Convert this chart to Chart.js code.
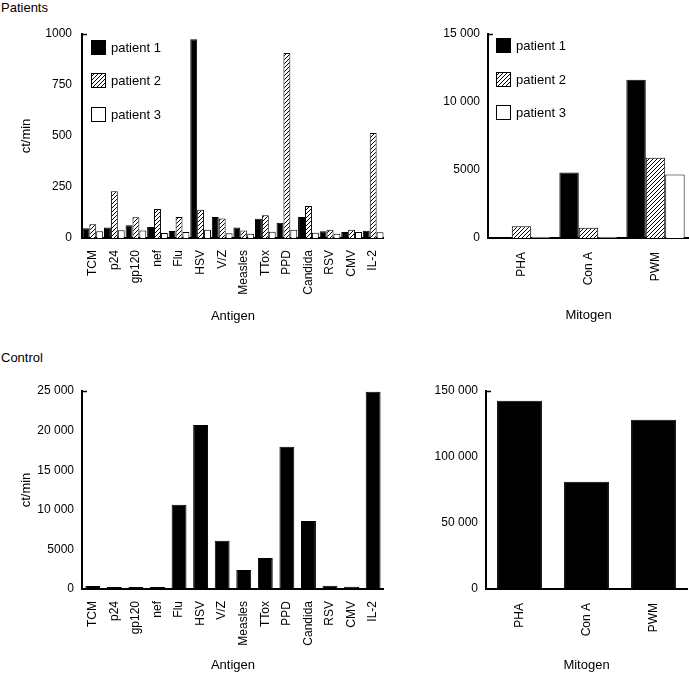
<!DOCTYPE html>
<html><head><meta charset="utf-8">
<script src="https://cdn.jsdelivr.net/npm/chart.js@4.4.1/dist/chart.umd.min.js"></script>
<style>
html,body{margin:0;padding:0;background:#fff;}
#wrap{position:relative;width:689px;height:673px;overflow:hidden;font-family:"Liberation Sans",Arial,sans-serif;}
canvas{position:absolute;}
.lbl{position:absolute;font-size:13px;line-height:15px;color:#000;white-space:nowrap;}
</style></head><body>
<div id="wrap">
<div class="lbl" style="left:1px;top:0px">Patients</div>
<div class="lbl" style="left:1px;top:350px">Control</div>
<canvas id="c1" width="400" height="330" style="left:0px;top:0px"></canvas>
<canvas id="c2" width="289" height="330" style="left:400px;top:0px"></canvas>
<canvas id="c3" width="400" height="333" style="left:0px;top:340px"></canvas>
<canvas id="c4" width="289" height="333" style="left:400px;top:340px"></canvas>
</div>
<script>
// ---- data ----
const antigens = ['TCM','p24','gp120','nef','Flu','HSV','V/Z','Measles','TTox','PPD','Candida','RSV','CMV','IL-2'];
const mitogens = ['PHA','Con A','PWM'];
const seriesNames = ['patient 1','patient 2','patient 3'];

const patient1Antigen = [48, 52, 63, 54, 34, 974, 103, 52, 94, 75, 103, 33, 29, 35];
const patient2Antigen = [68, 229, 102, 142, 103, 139, 96, 37, 111, 907, 157, 40, 40, 515];
const patient3Antigen = [33, 38, 37, 24, 29, 41, 23, 21, 31, 41, 26, 21, 29, 28];

const patient1Mitogen = [0, 4820, 11630];
const patient2Mitogen = [860, 760, 5900];
const patient3Mitogen = [70, 70, 4670];

const controlAntigen = [380, 260, 260, 260, 10650, 20700, 6100, 2400, 3900, 17950, 8600, 400, 290, 24900];
const controlMitogen = [142700, 81300, 128300];

const ticksPatientAntigen = [0, 250, 500, 750, 1000];
const ticksPatientMitogen = [0, 5000, 10000, 15000];
const ticksControlAntigen = [0, 5000, 10000, 15000, 20000, 25000];
const ticksControlMitogen = [0, 50000, 100000, 150000];

// ---- styling ----
Chart.defaults.font.family = "'Liberation Sans', Arial, sans-serif";
Chart.defaults.color = '#000';

function makeHatch() {
  const s = 4;
  const c = document.createElement('canvas'); c.width = s; c.height = s;
  const g = c.getContext('2d');
  g.fillStyle = '#fff'; g.fillRect(0, 0, s, s);
  g.fillStyle = '#000';
  for (let i = 0; i < s; i++) g.fillRect(i, s - 1 - i, 1, 1);
  return g.createPattern(c, 'repeat');
}
const hatch = makeHatch();
const fills = ['#000', hatch, '#fff'];

function fmt(v) {
  return v >= 10000 ? String(v).replace(/\B(?=(\d{3})+(?!\d))/g, ' ') : String(v);
}

const extras = {
  id: 'extras',
  afterDraw(chart, args, opts) {
    const ctx = chart.ctx, ca = chart.chartArea, y = chart.scales.y;
    ctx.save();
    ctx.strokeStyle = '#000'; ctx.lineWidth = 1.5;
    const yt = Math.round(y.getPixelForValue(y.max)) + 0.5;
    ctx.beginPath(); ctx.moveTo(ca.left, yt); ctx.lineTo(ca.left + 5, yt); ctx.stroke();
    if (opts && opts.legend) {
      const L = opts.legend;
      chart.data.datasets.forEach((ds, i) => {
        const bx = Math.round(ca.left + L.x), by = Math.round(ca.top + L.y + i * L.gap);
        ctx.fillStyle = ds.backgroundColor; ctx.fillRect(bx, by, 15, 15);
        ctx.strokeStyle = '#000'; ctx.lineWidth = 1; ctx.strokeRect(bx + 0.5, by + 0.5, 14, 14);
        ctx.fillStyle = '#000'; ctx.font = "13px 'Liberation Sans', Arial, sans-serif";
        ctx.textBaseline = 'middle'; ctx.textAlign = 'left';
        ctx.fillText(ds.label, bx + 20, by + 8);
      });
    }
    ctx.restore();
  }
};

function build(id, o) {
  const datasets = o.series.map((vals, i) => ({
    label: o.names[i],
    data: vals,
    backgroundColor: o.fills[i],
    borderColor: '#000',
    borderWidth: 1,
    borderSkipped: 'start',
    barPercentage: o.barPct,
    categoryPercentage: o.catPct
  }));
  return new Chart(document.getElementById(id), {
    type: 'bar',
    data: { labels: o.labels, datasets },
    plugins: [extras],
    options: {
      responsive: false, animation: false, devicePixelRatio: 1,
      layout: { padding: o.padding },
      plugins: { legend: { display: false }, tooltip: { enabled: false }, extras: { legend: o.legend } },
      scales: {
        x: {
          grid: { display: false, drawTicks: false },
          border: { display: true, color: '#000', width: 2 },
          ticks: { autoSkip: false, minRotation: 90, maxRotation: 90, padding: o.xPad, font: { size: 12 } },
          title: { display: true, text: o.xTitle, font: { size: 13 }, padding: { top: 0, bottom: o.xTitlePad } },
          afterFit: s => { s.height = o.xHeight; }
        },
        y: {
          min: o.ticks[0], max: o.ticks[o.ticks.length - 1],
          grid: { display: false, drawTicks: false },
          border: { display: true, color: '#000', width: 2 },
          ticks: { padding: o.yPad, font: { size: 12 }, callback: v => fmt(v) },
          afterBuildTicks: s => { s.ticks = o.ticks.map(v => ({ value: v })); },
          title: { display: !!o.yTitle, text: o.yTitle || '', font: { size: 13 }, padding: { top: 19, bottom: 0 } },
          afterFit: s => { s.width = o.yWidth; }
        }
      }
    }
  });
}

build('c1', {
  labels: antigens, names: seriesNames, fills,
  series: [patient1Antigen, patient2Antigen, patient3Antigen],
  ticks: ticksPatientAntigen, barPct: 1, catPct: 0.96,
  padding: { top: 34, right: 12, left: 0, bottom: 0 },
  yWidth: 82, xHeight: 92, xPad: 12, yPad: 10,
  xTitle: 'Antigen', xTitlePad: 6, yTitle: 'ct/min',
  legend: { x: 8.5, y: 5.5, gap: 33.5 }
});
build('c2', {
  labels: mitogens, names: seriesNames, fills,
  series: [patient1Mitogen, patient2Mitogen, patient3Mitogen],
  ticks: ticksPatientMitogen, barPct: 1, catPct: 0.87,
  padding: { top: 34, right: 0, left: 0, bottom: 0 },
  yWidth: 88, xHeight: 92, xPad: 14, yPad: 8,
  xTitle: 'Mitogen', xTitlePad: 7,
  legend: { x: 8, y: 4, gap: 33.7 }
});
build('c3', {
  labels: antigens, names: ['Control'], fills: ['#000'],
  series: [controlAntigen],
  ticks: ticksControlAntigen, barPct: 0.69, catPct: 1,
  padding: { top: 51, right: 13, left: 0, bottom: 0 },
  yWidth: 82, xHeight: 84, xPad: 12, yPad: 8,
  xTitle: 'Antigen', xTitlePad: 0, yTitle: 'ct/min'
});
build('c4', {
  labels: mitogens, names: ['Control'], fills: ['#000'],
  series: [controlMitogen],
  ticks: ticksControlMitogen, barPct: 0.67, catPct: 1,
  padding: { top: 51, right: 2, left: 0, bottom: 0 },
  yWidth: 86, xHeight: 84, xPad: 14, yPad: 8,
  xTitle: 'Mitogen', xTitlePad: 0
});
</script>
</body></html>
